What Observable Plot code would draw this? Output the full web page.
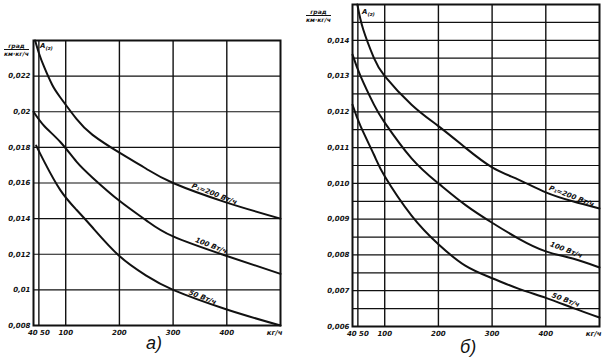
<!DOCTYPE html>
<html><head><meta charset="utf-8">
<script src="https://cdn.jsdelivr.net/npm/d3@7"></script>
<script src="https://cdn.jsdelivr.net/npm/@observablehq/plot@0.6"></script>
<style>
body{margin:0;background:#fff;}
#wrap{position:relative;width:605px;height:362px;overflow:hidden;font-family:"DejaVu Sans",sans-serif;background:#fff;}
.p{position:absolute;top:0;}
.lbl{position:absolute;font-style:italic;font-weight:bold;color:#111;white-space:nowrap;}
.unit{position:absolute;font-style:italic;font-weight:bold;color:#111;font-size:6px;text-align:center;line-height:7px;}
.unit .num{border-bottom:1px solid #111;}
.cap{position:absolute;font-style:italic;color:#111;font-size:18px;font-family:"Liberation Sans",sans-serif;}
</style></head><body><div id="wrap"></div>
<script>
// ---- Panel а) data ----
const xTicksA = [50, 100, 200, 300, 400];
const xTickLabelsA = ["40 50", "100", "200", "300", "400"];
const xEndA = [500];
const xEndLabelA = ["кг/ч"];
const yTicksA = [0.008, 0.010, 0.012, 0.014, 0.016, 0.018, 0.020, 0.022];
const yTickLabelsA = ["0,008", "0,01", "0,012", "0,014", "0,016", "0,018", "0,02", "0,022"];
const xGridA = [50, 100, 200, 300, 400];
const yGridA = [0.010, 0.012, 0.014, 0.016, 0.018, 0.020, 0.022];

const xA_top = [43, 50, 60, 75, 90, 120, 150, 200, 250, 300, 400, 500];
const yA_top = [0.0240, 0.0233, 0.0225, 0.0215, 0.0208, 0.0196, 0.0187, 0.0177, 0.0168, 0.0160, 0.0149, 0.0140];
const xA_mid = [40, 60, 90, 120, 150, 200, 250, 300, 400, 500];
const yA_mid = [0.0200, 0.0192, 0.0183, 0.0172, 0.0163, 0.0150, 0.0139, 0.0130, 0.0119, 0.0109];
const xA_low = [45, 60, 90, 120, 150, 200, 250, 300, 400, 500];
const yA_low = [0.0181, 0.0172, 0.0156, 0.0145, 0.0135, 0.0119, 0.0108, 0.0100, 0.0089, 0.0080];
const labelsA = ["P₁=200 Вт/ч", "100 Вт/ч", "50 Вт/ч"];
const labelXA = [377, 371, 355];
const labelYA = [0.0151, 0.0122, 0.0093];

// ---- Panel б) data ----
const xTicksB = [50, 100, 200, 300, 400];
const xTickLabelsB = ["40 50", "100", "200", "300", "400"];
const xEndB = [500];
const xEndLabelB = ["кг/ч"];
const yTicksB = [0.006, 0.007, 0.008, 0.009, 0.010, 0.011, 0.012, 0.013, 0.014];
const yTickLabelsB = ["0,006", "0,007", "0,008", "0,009", "0,010", "0,011", "0,012", "0,013", "0,014"];
const xGridB = [50, 100, 200, 300, 400];
const yGridB = [0.0065, 0.007, 0.0075, 0.008, 0.0085, 0.009, 0.0095, 0.010, 0.0105, 0.011, 0.0115, 0.012, 0.0125, 0.013, 0.0135, 0.014, 0.0145];

const xB_top = [49, 60, 80, 100, 150, 200, 250, 300, 350, 400, 450, 500];
const yB_top = [0.0150, 0.0143, 0.0135, 0.0130, 0.0122, 0.0116, 0.0110, 0.01045, 0.0101, 0.00975, 0.0095, 0.0093];
const xB_mid = [40, 55, 80, 100, 150, 200, 250, 300, 350, 400, 450, 500];
const yB_mid = [0.0136, 0.0130, 0.0122, 0.0117, 0.0107, 0.0100, 0.0094, 0.0089, 0.00845, 0.0081, 0.0079, 0.00765];
const xB_low = [40, 55, 80, 100, 150, 200, 250, 300, 350, 400, 450, 500];
const yB_low = [0.0122, 0.0116, 0.0108, 0.0102, 0.0091, 0.0083, 0.0077, 0.00735, 0.00705, 0.0068, 0.00652, 0.00625];
const labelsB = ["P₁=200 Вт/ч", "100 Вт/ч", "50 Вт/ч"];
const labelXB = [448, 438, 437];
const labelYB = [0.0095, 0.0080, 0.0066];

const ink = "#111";
const txt = {fontSize: 7, fontStyle: "italic", fontWeight: "bold", fill: ink};

function series(xs, ys) { return xs.map((x, i) => ({x, y: ys[i]})); }

function panel(o) {
  const xMap = new Map(o.xTicks.map((d, i) => [d, o.xTickLabels[i]]));
  const eMap = new Map(o.xEnd.map((d, i) => [d, o.xEndLabel[i]]));
  const yMap = new Map(o.yTicks.map((d, i) => [d, o.yTickLabels[i]]));
  const labs = o.labels.map((t, i) => ({t, x: o.labelX[i], y: o.labelY[i]}));
  return Plot.plot({
    width: o.width, height: 362,
    marginLeft: o.ml, marginRight: o.mr, marginTop: o.mt, marginBottom: o.mb,
    style: {background: "transparent", fontFamily: "DejaVu Sans, sans-serif", fontSize: "7px"},
    x: {domain: [40, 500], axis: null},
    y: {domain: o.yDomain, axis: null},
    marks: [
      Plot.ruleX(o.xGrid, {stroke: ink, strokeWidth: 1.4}),
      Plot.ruleY(o.yGrid, {stroke: ink, strokeWidth: 1.2}),
      Plot.frame({stroke: ink, strokeWidth: 2}),
      ...o.curves.map(c => Plot.line(c, {x: "x", y: "y", curve: "natural", stroke: ink, strokeWidth: 2})),
      Plot.text(labs, {x: "x", y: "y", text: "t", rotate: 21, dy: -5, ...txt}),
      Plot.axisX(o.xTicks, {label: null, tickSize: 0, tickPadding: 5, tickFormat: d => xMap.get(d), ...txt}),
      Plot.axisX(o.xEnd, {label: null, tickSize: 0, tickPadding: 5, textAnchor: "end", dx: 2, tickFormat: d => eMap.get(d), ...txt}),
      Plot.axisY(o.yTicks, {label: null, tickSize: 0, tickPadding: 3, tickFormat: d => yMap.get(d), ...txt})
    ]
  });
}

const wrap = document.getElementById("wrap");

const pa = panel({
  width: 300, ml: 33, mr: 20, mt: 40, mb: 37,
  yDomain: [0.008, 0.024],
  xTicks: xTicksA, xTickLabels: xTickLabelsA, xEnd: xEndA, xEndLabel: xEndLabelA,
  yTicks: yTicksA, yTickLabels: yTickLabelsA,
  xGrid: xGridA, yGrid: yGridA,
  curves: [series(xA_top, yA_top), series(xA_mid, yA_mid), series(xA_low, yA_low)],
  labels: labelsA, labelX: labelXA, labelY: labelYA
});
pa.classList.add("p"); pa.style.left = "0px";
wrap.appendChild(pa);

const pb = panel({
  width: 305, ml: 52, mr: 6, mt: 4, mb: 36,
  yDomain: [0.006, 0.015],
  xTicks: xTicksB, xTickLabels: xTickLabelsB, xEnd: xEndB, xEndLabel: xEndLabelB,
  yTicks: yTicksB, yTickLabels: yTickLabelsB,
  xGrid: xGridB, yGrid: yGridB,
  curves: [series(xB_top, yB_top), series(xB_mid, yB_mid), series(xB_low, yB_low)],
  labels: labelsB, labelX: labelXB, labelY: labelYB
});
pb.classList.add("p"); pb.style.left = "300px";
wrap.appendChild(pb);

function addDiv(cls, html, left, top) {
  const d = document.createElement("div");
  d.className = cls; d.innerHTML = html;
  d.style.left = left + "px"; d.style.top = top + "px";
  wrap.appendChild(d);
}
addDiv("unit", '<div class="num">град</div><div>км·кг/ч</div>', 4, 42);
addDiv("unit", '<div class="num">град</div><div>км·кг/ч</div>', 306, 8);
addDiv("lbl", 'A<sub style="font-size:5px">(z)</sub>', 40, 42);
addDiv("lbl", 'A<sub style="font-size:5px">(z)</sub>', 362, 8);
document.querySelectorAll(".lbl").forEach(e => e.style.fontSize = "7px");
addDiv("cap", "а)", 146, 333);
addDiv("cap", "б)", 460, 337);
</script>
</body></html>
